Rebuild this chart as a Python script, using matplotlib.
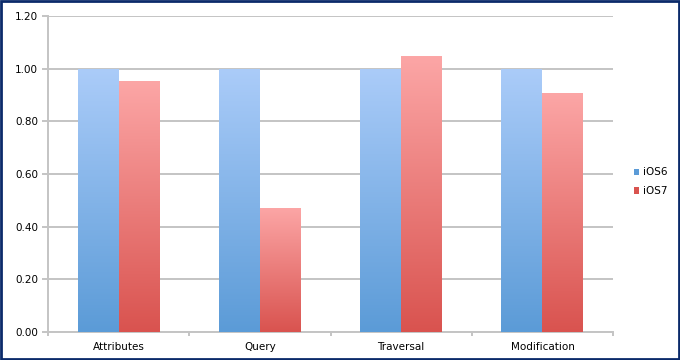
import matplotlib.pyplot as plt
import numpy as np
from matplotlib.colors import LinearSegmentedColormap
from matplotlib.patches import Rectangle

categories = ["Attributes", "Query", "Traversal", "Modification"]
series = ["iOS6", "iOS7"]
ios6 = [1.00, 1.00, 1.00, 1.00]
ios7 = [0.953, 0.471, 1.048, 0.907]

top_colors = {"iOS6": "#abccf9", "iOS7": "#fca6a6"}
bottom_colors = {"iOS6": "#5b9bd7", "iOS7": "#d9534f"}
grid_color = "#c4c4c4"

fig = plt.figure(figsize=(6.8, 3.6), dpi=100)
ax = fig.add_axes([0.0706, 0.0778, 0.831, 0.8778])

x = np.arange(len(categories))
width = 0.29
grad = np.linspace(1, 0, 256).reshape(-1, 1)

for i, (name, vals) in enumerate(zip(series, [ios6, ios7])):
    cmap = LinearSegmentedColormap.from_list(name, [bottom_colors[name], top_colors[name]])
    offset = (i - 0.5) * width
    bars = ax.bar(x + offset, vals, width, color="none", edgecolor="none", zorder=3)
    for b in bars:
        bx, bw, bh = b.get_x(), b.get_width(), b.get_height()
        im = ax.imshow(grad, cmap=cmap, aspect="auto", extent=[bx, bx + bw, 0, bh],
                       zorder=3, vmin=0, vmax=1)
        im.set_clip_path(b)
    # legend proxy
    ax.bar([0], [0], color=bottom_colors[name], edgecolor="none", label=name)

ax.set_xlim(-0.5, len(categories) - 0.5)
ax.set_ylim(0, 1.2)
yt = np.arange(0, 1.21, 0.2)
ax.set_yticks(yt)
ax.set_yticklabels([f"{v:.2f}" for v in yt], fontsize=7.5)
ax.set_xticks(x)
ax.set_xticklabels(categories, fontsize=7.5)
ax.set_xticks(np.arange(-0.5, len(categories), 1), minor=True)
ax.tick_params(axis="x", which="major", length=0, pad=7)
ax.tick_params(axis="x", which="minor", length=3, color=grid_color, width=1.4)
ax.tick_params(axis="y", length=4, color=grid_color, width=1.4, pad=3)

ax.yaxis.grid(True, color=grid_color, linewidth=1.4, zorder=0)
ax.set_axisbelow(True)
for s in ["top", "right"]:
    ax.spines[s].set_visible(False)
for s in ["left", "bottom"]:
    ax.spines[s].set_color(grid_color)
    ax.spines[s].set_linewidth(1.4)

ax.legend(loc="center left", bbox_to_anchor=(1.02, 0.475), frameon=False,
          fontsize=7.5, handlelength=0.55, handleheight=0.55,
          handletextpad=0.3, labelspacing=0.85)

fig.patches.append(Rectangle((0.0015, 0.0025), 0.997, 0.995, transform=fig.transFigure,
                             fill=False, edgecolor="#0b2a6a", linewidth=2))

fig.savefig("out.png", dpi=100)
